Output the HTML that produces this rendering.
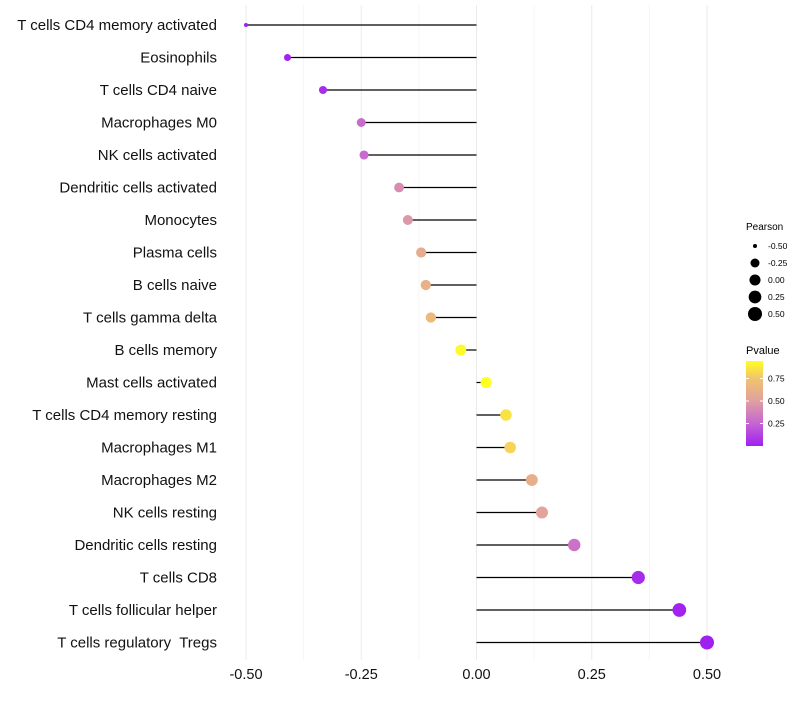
<!DOCTYPE html>
<html><head><meta charset="utf-8"><style>
body{margin:0;background:#fff;font-family:"Liberation Sans",sans-serif}
text{white-space:pre}
</style></head><body>
<svg id="chart" width="800" height="700" xmlns="http://www.w3.org/2000/svg" font-family="Liberation Sans, sans-serif">
<defs><linearGradient id="pg" x1="0" y1="1" x2="0" y2="0">
<stop offset="0" stop-color="#a020f0"/><stop offset="0.27" stop-color="#c666d2"/><stop offset="0.53" stop-color="#e0a0a0"/><stop offset="0.8" stop-color="#f2c46c"/><stop offset="1" stop-color="#ffff20"/></linearGradient></defs>
<g id="grid"></g><g id="marks"></g><g id="labels"></g>
<g>
<text x="746" y="230" font-size="10">Pearson</text>
<g id="sizeleg"></g>
<text x="746" y="354" font-size="11">Pvalue</text>
<rect x="746" y="361" width="17" height="85" fill="url(#pg)"/>
<g id="colleg"></g>
</g>
</svg>
<script>
const categories=["T cells CD4 memory activated","Eosinophils","T cells CD4 naive","Macrophages M0","NK cells activated","Dendritic cells activated","Monocytes","Plasma cells","B cells naive","T cells gamma delta","B cells memory","Mast cells activated","T cells CD4 memory resting","Macrophages M1","Macrophages M2","NK cells resting","Dendritic cells resting","T cells CD8","T cells follicular helper","T cells regulatory  Tregs"];
const pearson=[-0.50,-0.41,-0.333,-0.25,-0.244,-0.168,-0.149,-0.12,-0.11,-0.099,-0.034,0.021,0.064,0.073,0.12,0.142,0.212,0.351,0.44,0.50];
const pvalue=[0.0,0.01,0.05,0.28,0.27,0.42,0.46,0.58,0.62,0.68,0.92,0.94,0.85,0.8,0.6,0.52,0.3,0.04,0.01,0.0];
const xTicks=[-0.5,-0.25,0,0.25,0.5];
const xTickLabels=["-0.50","-0.25","0.00","0.25","0.50"];
const sizeLegend=[-0.5,-0.25,0,0.25,0.5];
const colorTicks=[0.25,0.5,0.75];

const NS="http://www.w3.org/2000/svg";
const x=v=>476.5+v*461;
const y=i=>25+i*32.5;
const r=v=>2+5*Math.sqrt(Math.max(0,v+0.5));
const stops=[[0,[160,32,240]],[0.25,[198,102,210]],[0.5,[224,160,160]],[0.75,[242,196,108]],[0.94,[255,255,32]]];
function col(p){p=Math.min(0.94,Math.max(0,p));for(let k=1;k<stops.length;k++){if(p<=stops[k][0]){const a=stops[k-1],b=stops[k],t=(p-a[0])/(b[0]-a[0]);return "rgb("+a[1].map((c,j)=>Math.round(c+(b[1][j]-c)*t)).join(",")+")";}}return "rgb(255,255,32)";}
function mk(t,attrs,parent){const e=document.createElementNS(NS,t);for(const k in attrs)e.setAttribute(k,attrs[k]);parent.appendChild(e);return e;}
const grid=document.getElementById('grid'),marks=document.getElementById('marks'),labels=document.getElementById('labels');
for(let v=-0.5;v<=0.5001;v+=0.125){const l=mk('line',{x1:x(v),x2:x(v),y1:5,y2:660,stroke:Math.abs((v*4)%1)<1e-6?'#ebebeb':'#f5f5f5','stroke-width':1},grid);

}
xTicks.forEach((v,i)=>{const t=mk('text',{x:x(v),y:679,'text-anchor':'middle','font-size':14.5,fill:'#111'},labels);t.textContent=xTickLabels[i];

});
categories.forEach((c,i)=>{
const t=mk('text',{x:217,y:y(i)+5,'text-anchor':'end','font-size':15,fill:'#111'},labels);t.textContent=c;


const l=mk('line',{x1:x(0),x2:x(pearson[i]),y1:y(i),y2:y(i),stroke:'#000','stroke-width':1.2},marks);


const d=mk('circle',{cx:x(pearson[i]),cy:y(i),r:r(pearson[i]),fill:col(pvalue[i])},marks);


});
const sl=document.getElementById('sizeleg');
sizeLegend.forEach((v,i)=>{const cy=246+i*17;
const c=mk('circle',{cx:755,cy:cy,r:r(v),fill:'#000'},sl);


const t=mk('text',{x:768,y:cy+3,'font-size':8.5},sl);t.textContent=xTickLabels[i];

});
const cl=document.getElementById('colleg');
colorTicks.forEach(v=>{const cy=446-v*90;
const l=mk('line',{x1:746,x2:749,y1:cy,y2:cy,stroke:'#fff'},cl);


const l2=mk('line',{x1:760,x2:763,y1:cy,y2:cy,stroke:'#fff'},cl);


const t=mk('text',{x:768,y:cy+3,'font-size':8.5},cl);t.textContent=v.toFixed(2);

});
</script>
</body></html>
